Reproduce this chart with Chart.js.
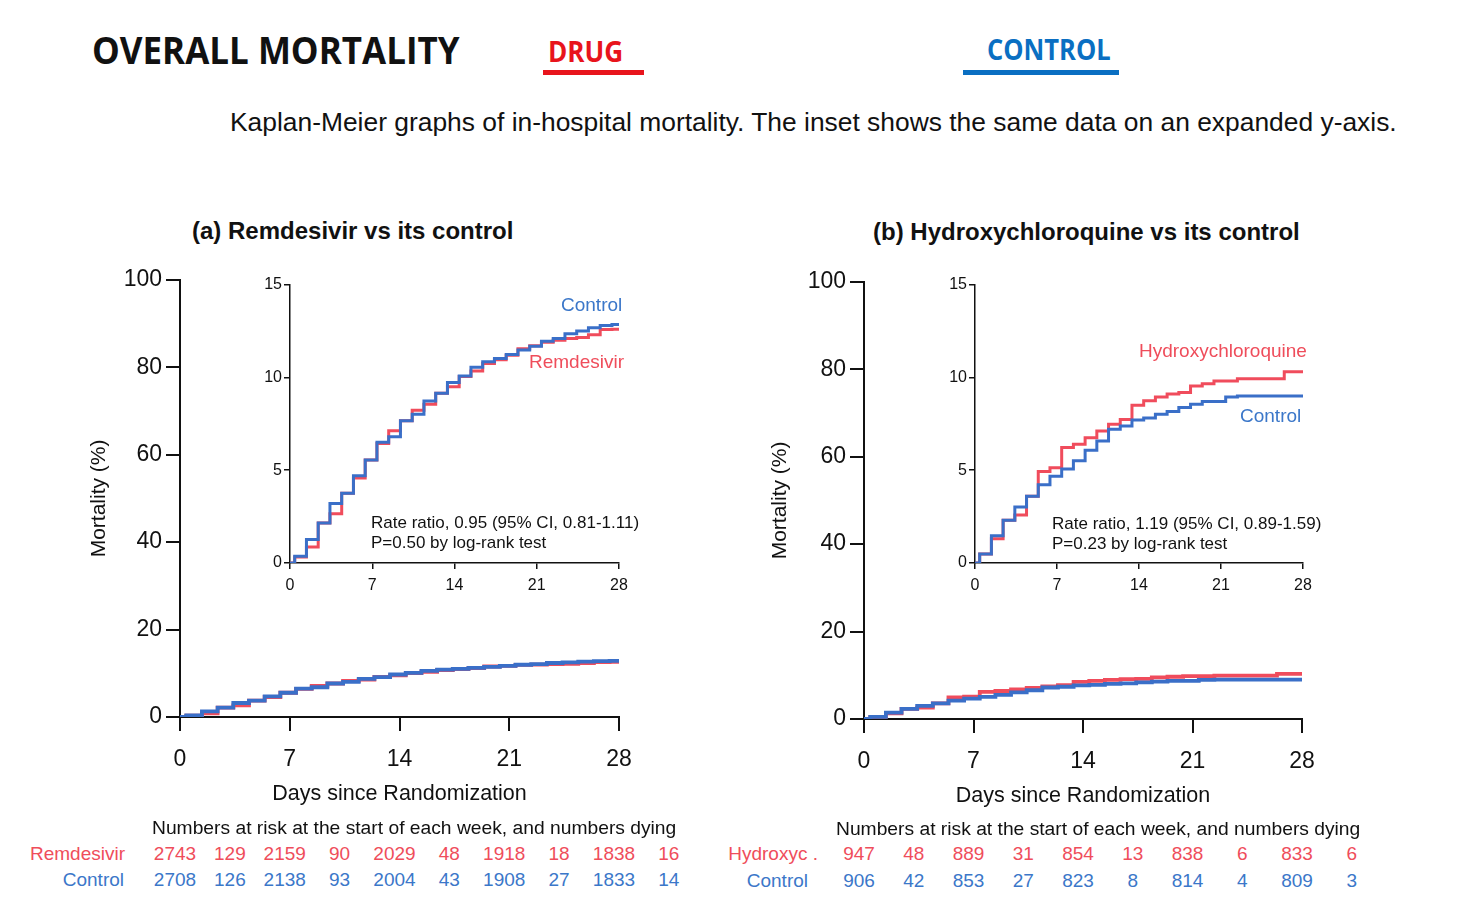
<!DOCTYPE html>
<html>
<head>
<meta charset="utf-8">
<script src="https://cdn.jsdelivr.net/npm/chart.js@4.4.1/dist/chart.umd.min.js"></script>
<style>
  body { margin: 0; background: #fff; }
  #page { position: relative; width: 1473px; height: 918px; overflow: hidden; background: #fff;
          font-family: 'Liberation Sans', Arial, sans-serif; color: #111; }
  .abs { position: absolute; white-space: nowrap; line-height: 1; }
  canvas { position: absolute; }
  .hdr { font-family: 'Open Sans', sans-serif; font-weight: 700; transform-origin: left center; }
  .mid { transform: translate(-50%, -50%); }
  .vmid { transform: translateY(-50%); }
  .rmid { transform: translate(-100%, -50%); }
  .red { color: #ef4d5b; }
  .blue { color: #3b77c9; }
</style>
</head>
<body>
<div id="page">
  <div class="abs hdr" style="left:92px;top:30px;font-size:38px;transform:scaleX(0.92)">OVERALL MORTALITY</div>
  <div class="abs hdr" style="left:548px;top:36px;font-size:29px;color:#e8141c;transform:scaleX(0.9)">DRUG</div>
  <div class="abs" style="left:543px;top:70px;width:101px;height:5px;background:#e8141c"></div>
  <div class="abs hdr" style="left:987px;top:34px;font-size:29px;color:#0a6fc2;transform:scaleX(0.88)">CONTROL</div>
  <div class="abs" style="left:963px;top:70px;width:156px;height:5px;background:#0a6fc2"></div>
  <div class="abs vmid" style="left:230px;top:122px;font-size:26.4px">Kaplan-Meier graphs of in-hospital mortality. The inset shows the same data on an expanded y-axis.</div>

  <div class="abs vmid" style="left:192px;top:231px;font-size:24px;font-weight:700">(a) Remdesivir vs its control</div>
  <div class="abs vmid" style="left:873px;top:232px;font-size:24px;font-weight:700">(b) Hydroxychloroquine vs its control</div>

  <canvas id="mainA" width="600" height="570" style="left:60px;top:262px"></canvas>
  <canvas id="insetA" width="400" height="330" style="left:240px;top:273px"></canvas>
  <canvas id="mainB" width="600" height="570" style="left:744px;top:264px"></canvas>
  <canvas id="insetB" width="400" height="330" style="left:925px;top:273px"></canvas>

  <div class="abs vmid blue" style="left:561px;top:304px;font-size:19px">Control</div>
  <div class="abs vmid red" style="left:529px;top:361px;font-size:19px">Remdesivir</div>
  <div class="abs vmid" style="left:371px;top:522px;font-size:17px">Rate ratio, 0.95 (95% CI, 0.81-1.11)</div>
  <div class="abs vmid" style="left:371px;top:542px;font-size:17px">P=0.50 by log-rank test</div>

  <div class="abs vmid red" style="left:1139px;top:350px;font-size:19px">Hydroxychloroquine</div>
  <div class="abs vmid blue" style="left:1240px;top:415px;font-size:19px">Control</div>
  <div class="abs vmid" style="left:1052px;top:523px;font-size:17px">Rate ratio, 1.19 (95% CI, 0.89-1.59)</div>
  <div class="abs vmid" style="left:1052px;top:543px;font-size:17px">P=0.23 by log-rank test</div>

  <div class="abs vmid" style="left:152px;top:828px;font-size:19.25px">Numbers at risk at the start of each week, and numbers dying</div>
  <div class="abs vmid" style="left:836px;top:829px;font-size:19.25px">Numbers at risk at the start of each week, and numbers dying</div>
  <div id="tables"></div>
</div>

<script>
// step times (days) for the Kaplan-Meier curves
const stepDays = [0, 0.4, 1.4, 2.4, 3.4, 4.4, 5.4, 6.4, 7.4, 8.4, 9.4, 10.4, 11.4, 12.4, 13.4,
    14.4, 15.4, 16.4, 17.4, 18.4, 19.4, 20.4, 21.4, 22.4, 23.4, 24.4, 25.4, 26.4, 27.4, 28];

// cumulative mortality (%)
const remdesivirPct = [0, 0.32, 0.86, 2.15, 2.65, 3.76, 4.58, 5.55, 6.44, 7.12, 7.66, 8.23, 8.55, 9.15, 9.5,
    10.05, 10.35, 10.75, 10.95, 11.2, 11.55, 11.7, 11.9, 12.0, 12.1, 12.15, 12.3, 12.58, 12.6, 12.6];
const remControlPct = [0, 0.36, 1.27, 2.15, 3.2, 3.76, 4.7, 5.55, 6.5, 6.8, 7.66, 8.02, 8.73, 9.14, 9.72,
    10.07, 10.55, 10.84, 11.02, 11.23, 11.47, 11.68, 11.95, 12.1, 12.35, 12.5, 12.67, 12.8, 12.85, 12.85];
const hcqPct = [0, 0.48, 1.3, 2.31, 2.58, 3.59, 4.93, 5.13, 6.22, 6.4, 6.75, 7.11, 7.47, 7.73, 8.5,
    8.74, 8.95, 9.1, 9.18, 9.54, 9.66, 9.8, 9.8, 9.93, 9.93, 9.93, 9.93, 10.3, 10.3, 10.3];
const hcqControlPct = [0, 0.48, 1.47, 2.31, 3.02, 3.59, 4.21, 4.67, 5.07, 5.51, 6.08, 6.58, 7.2, 7.38, 7.7,
    7.81, 8.02, 8.16, 8.38, 8.56, 8.7, 8.7, 8.95, 9.0, 9.0, 9.0, 9.0, 9.0, 9.0, 9.0];

// numbers at risk / dying per week
const weekStarts = [0, 7, 14, 21, 28];
const remAtRisk = [2743, 2159, 2029, 1918, 1838];
const remDying = [129, 90, 48, 18, 16];
const remCtlAtRisk = [2708, 2138, 2004, 1908, 1833];
const remCtlDying = [126, 93, 43, 27, 14];
const hcqAtRisk = [947, 889, 854, 838, 833];
const hcqDying = [48, 31, 13, 6, 6];
const hcqCtlAtRisk = [906, 853, 823, 814, 809];
const hcqCtlDying = [42, 27, 8, 4, 3];

const RED = '#f04c5c';
const BLUE = '#3a6fc8';
const INK = '#111';

Chart.defaults.font.family = "'Liberation Sans', Arial, sans-serif";
Chart.defaults.color = INK;

const kmPoints = (values) => values.map((v, i) => ({ x: stepDays[i], y: v }));

const buildChart = (id, c) => {
    const ctx = document.getElementById(id).getContext('2d');
    return new Chart(ctx, {
        type: 'line',
        data: {
            datasets: [
                { data: kmPoints(c.control), borderColor: BLUE },
                { data: kmPoints(c.drug), borderColor: RED },
            ].map((d) => ({ ...d, borderWidth: c.lineWidth, stepped: 'before', pointRadius: 0, fill: false })),
        },
        options: {
            responsive: false,
            animation: false,
            layout: { padding: { top: c.padTop, right: c.padRight, left: 0, bottom: 0 } },
            plugins: { legend: { display: false }, tooltip: { enabled: false } },
            scales: {
                x: {
                    type: 'linear', min: 0, max: 28,
                    afterFit: (s) => { s.height = c.xHeight; },
                    border: { display: true, color: INK, width: c.axisWidth },
                    grid: { drawOnChartArea: false, drawTicks: true, tickLength: c.tickLen, color: INK, lineWidth: c.axisWidth },
                    ticks: { stepSize: 7, font: { size: c.tickFont }, padding: c.xTickPad, maxRotation: 0 },
                    title: c.xTitle
                        ? { display: true, text: 'Days since Randomization', font: { size: 21.5 }, padding: { top: 0, bottom: c.xTitlePad } }
                        : { display: false },
                },
                y: {
                    min: 0, max: c.yMax,
                    afterFit: (s) => { s.width = c.yWidth; },
                    border: { display: true, color: INK, width: c.axisWidth },
                    grid: { drawOnChartArea: false, drawTicks: true, tickLength: c.tickLen, color: INK, lineWidth: c.axisWidth },
                    ticks: { stepSize: c.yStep, font: { size: c.tickFont }, padding: c.yTickPad },
                    title: c.yTitle
                        ? { display: true, text: 'Mortality (%)', font: { size: 21 }, padding: { top: c.yTitlePad, bottom: 0 } }
                        : { display: false },
                },
            },
        },
    });
};

const mainOpts = {
    lineWidth: 3.8, axisWidth: 2, tickLen: 14, tickFont: 23, xTickPad: 15, yTickPad: 4,
    yMax: 100, yStep: 20, yWidth: 120, xHeight: 115, padTop: 15, xTitle: true, yTitle: true, xTitlePad: 25,
};
const insetOpts = {
    lineWidth: 3, axisWidth: 1.5, tickLen: 6, tickFont: 16, xTickPad: 7, yTickPad: 2,
    yMax: 15, yStep: 5, yWidth: 50, xHeight: 40, padTop: 10, xTitle: false, yTitle: false,
};

const mainA = buildChart('mainA', { ...mainOpts, drug: remdesivirPct, control: remControlPct, padRight: 41, yTitlePad: 27 });
buildChart('insetA', { ...insetOpts, drug: remdesivirPct, control: remControlPct, padRight: 21 });
const mainB = buildChart('mainB', { ...mainOpts, drug: hcqPct, control: hcqControlPct, padRight: 42, yTitlePad: 24 });
buildChart('insetB', { ...insetOpts, drug: hcqPct, control: hcqControlPct, padRight: 22 });

// numbers-at-risk rows, columns lined up with the main x axis
const renderRiskTable = (chart, rows) => {
    const box = document.getElementById('tables');
    const left = chart.canvas.offsetLeft;
    const xs = chart.scales.x;
    rows.forEach((r) => {
        box.innerHTML += `<div class="abs rmid ${r.cls}" style="left:${r.labelRight}px;top:${r.y}px;font-size:19px">${r.label}</div>`;
        weekStarts.forEach((d, i) => {
            const xRisk = left + xs.getPixelForValue(d) - 5;
            const xDie = left + xs.getPixelForValue(d + 3.5) - 5;
            box.innerHTML += `
      <div class="abs mid ${r.cls}" style="left:${xRisk}px;top:${r.y}px;font-size:19px">${r.atRisk[i]}</div>
      <div class="abs mid ${r.cls}" style="left:${xDie}px;top:${r.y}px;font-size:19px">${r.dying[i]}</div>`;
        });
    });
};

renderRiskTable(mainA, [
    { label: 'Remdesivir', cls: 'red', labelRight: 125, y: 853, atRisk: remAtRisk, dying: remDying },
    { label: 'Control', cls: 'blue', labelRight: 124, y: 879, atRisk: remCtlAtRisk, dying: remCtlDying },
]);
renderRiskTable(mainB, [
    { label: 'Hydroxyc .', cls: 'red', labelRight: 818, y: 853, atRisk: hcqAtRisk, dying: hcqDying },
    { label: 'Control', cls: 'blue', labelRight: 808, y: 880, atRisk: hcqCtlAtRisk, dying: hcqCtlDying },
]);
</script>
</body>
</html>
